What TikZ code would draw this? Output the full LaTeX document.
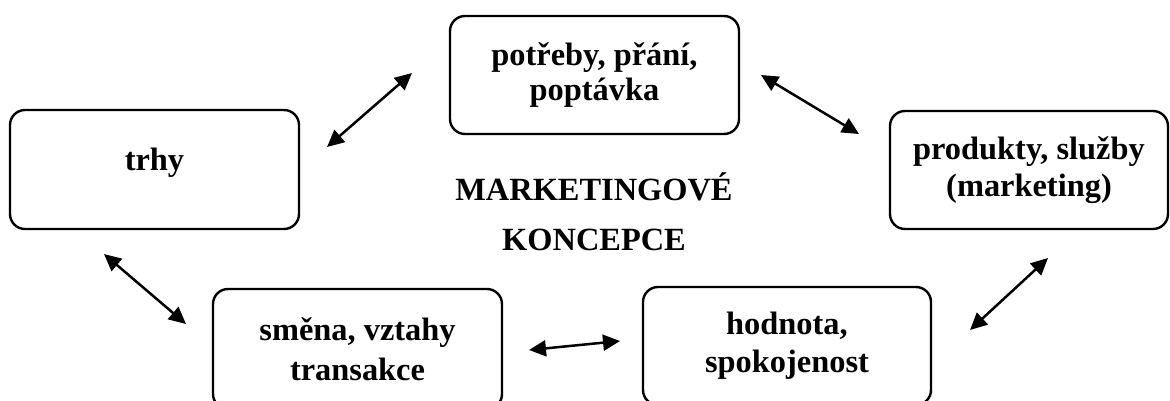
\documentclass[tikz,border=0pt]{standalone}
\usepackage{fontspec}
\setmainfont{Liberation Serif}
\usetikzlibrary{arrows.meta}
\tikzset{
  box/.style={draw, line width=2.4pt, rounded corners=15pt, align=center, inner sep=0pt,
    font=\bfseries\fontsize{32.4}{37}\selectfont},
  link/.style={{Triangle[length=17pt,width=16pt]}-{Triangle[length=17pt,width=16pt]}, line width=2.5pt},
  title/.style={align=center, inner sep=0pt, font=\bfseries\fontsize{32.4}{50}\selectfont}
}
\begin{document}
\begin{tikzpicture}[x=1pt,y=-1pt]
\useasboundingbox (0,0) rectangle (1170,400);
\node[box, minimum width=289pt, minimum height=119pt, text height=20pt, text depth=19pt] (trhy) at (154.5,169.5) {trhy};
\node[box, minimum width=289pt, minimum height=118pt, font=\bfseries\fontsize{32.4}{35}\selectfont] (potreby) at (594.5,75) {potřeby, přání,\\poptávka};
\node[box, minimum width=278pt, minimum height=118pt] (produkty) at (1029,170) {produkty, služby\\(marketing)};
\node[box, minimum width=289pt, minimum height=120pt, font=\bfseries\fontsize{32.4}{40}\selectfont] (smena) at (357.5,349) {směna, vztahy\\transakce};
\node[box, minimum width=288pt, minimum height=118pt, font=\bfseries\fontsize{32.4}{38}\selectfont] (hodnota) at (787,346) {hodnota,\\spokojenost};
\node[title] (mk) at (594,211.5) {MARKETINGOVÉ\\KONCEPCE};
\coordinate (a1s) at (327,147);  \coordinate (a1e) at (412,73);
\coordinate (a2s) at (761,75);   \coordinate (a2e) at (859,134);
\coordinate (a3s) at (104,254);  \coordinate (a3e) at (186,324);
\coordinate (a4s) at (529,350);  \coordinate (a4e) at (620,341);
\coordinate (a5s) at (970,330);  \coordinate (a5e) at (1048,258);
\draw[link] (a1s) -- (a1e);
\draw[link] (a2s) -- (a2e);
\draw[link] (a3s) -- (a3e);
\draw[link] (a4s) -- (a4e);
\draw[link] (a5s) -- (a5e);
\end{tikzpicture}
\end{document}
